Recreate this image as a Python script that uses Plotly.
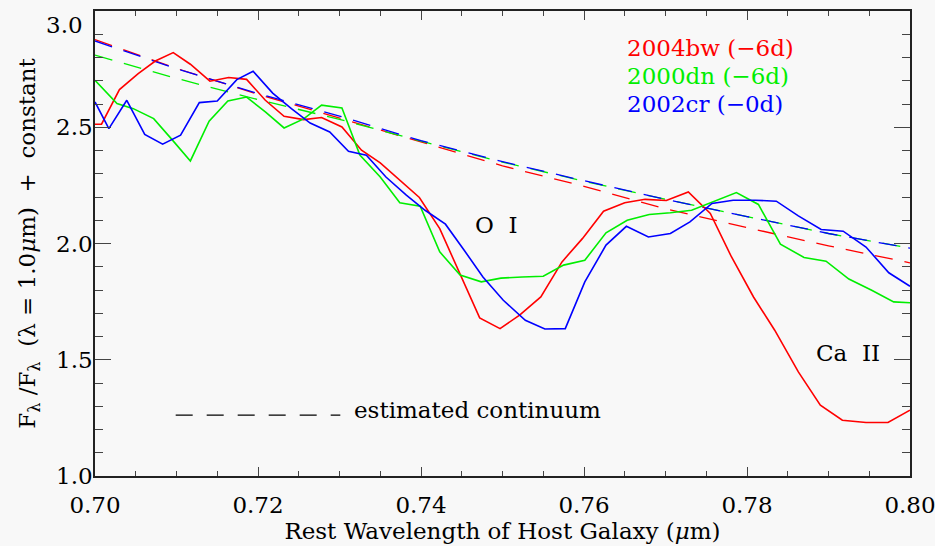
import plotly.graph_objects as go

# Rest wavelength (micron) and normalised flux for each supernova
wave_04bw = [0.7000, 0.7008, 0.7030, 0.7053, 0.7074, 0.7096, 0.7117, 0.7141, 0.7164, 0.7186,
             0.7209, 0.7232, 0.7256, 0.7278, 0.7303, 0.7327, 0.7350, 0.7374, 0.7398, 0.7423,
             0.7448, 0.7472, 0.7497, 0.7521, 0.7547, 0.7573, 0.7598, 0.7624, 0.7650, 0.7675,
             0.7701, 0.7728, 0.7755, 0.7781, 0.7808, 0.7834, 0.7863, 0.7890, 0.7917, 0.7946,
             0.7973, 0.8000]
flux_04bw = [2.513, 2.513, 2.662, 2.731, 2.785, 2.821, 2.771, 2.698, 2.714, 2.706,
             2.616, 2.547, 2.533, 2.542, 2.501, 2.401, 2.347, 2.272, 2.198, 2.064,
             1.864, 1.680, 1.634, 1.692, 1.770, 1.921, 2.021, 2.139, 2.175, 2.190,
             2.185, 2.222, 2.129, 1.942, 1.770, 1.627, 1.448, 1.305, 1.240, 1.230,
             1.230, 1.283]

wave_00dn = [0.7000, 0.7027, 0.7047, 0.7072, 0.7094, 0.7117, 0.7140, 0.7163, 0.7186, 0.7209,
             0.7232, 0.7256, 0.7278, 0.7303, 0.7325, 0.7350, 0.7374, 0.7399, 0.7423, 0.7448,
             0.7474, 0.7498, 0.7524, 0.7550, 0.7575, 0.7601, 0.7627, 0.7653, 0.7680, 0.7706,
             0.7732, 0.7759, 0.7787, 0.7814, 0.7841, 0.7870, 0.7897, 0.7925, 0.7953, 0.7980,
             0.8000]
flux_00dn = [2.702, 2.602, 2.580, 2.537, 2.449, 2.355, 2.526, 2.613, 2.630, 2.566,
             2.497, 2.536, 2.595, 2.583, 2.380, 2.286, 2.175, 2.160, 1.964, 1.864,
             1.835, 1.851, 1.856, 1.859, 1.907, 1.928, 2.046, 2.100, 2.125, 2.132,
             2.143, 2.179, 2.219, 2.168, 1.997, 1.940, 1.924, 1.847, 1.799, 1.749,
             1.745]

wave_02cr = [0.7000, 0.7017, 0.7039, 0.7061, 0.7083, 0.7105, 0.7128, 0.7150, 0.7174, 0.7194,
             0.7218, 0.7241, 0.7264, 0.7288, 0.7311, 0.7333, 0.7357, 0.7382, 0.7405, 0.7430,
             0.7453, 0.7476, 0.7501, 0.7528, 0.7552, 0.7577, 0.7601, 0.7627, 0.7652, 0.7679,
             0.7706, 0.7730, 0.7757, 0.7783, 0.7810, 0.7836, 0.7863, 0.7891, 0.7918, 0.7946,
             0.7974, 0.8000]
flux_02cr = [2.609, 2.494, 2.616, 2.469, 2.427, 2.466, 2.606, 2.613, 2.705, 2.741,
             2.647, 2.580, 2.518, 2.480, 2.397, 2.380, 2.286, 2.208, 2.143, 2.083,
             1.971, 1.856, 1.756, 1.670, 1.632, 1.634, 1.835, 1.993, 2.074, 2.028,
             2.043, 2.093, 2.172, 2.186, 2.186, 2.182, 2.119, 2.060, 2.053, 1.985,
             1.874, 1.816]

# Estimated continuum for each spectrum
cont_wave = [0.700, 0.710, 0.720, 0.730, 0.740, 0.750, 0.760, 0.770, 0.780, 0.790, 0.800]
cont_04bw = [2.877, 2.753, 2.642, 2.540, 2.438, 2.334, 2.246, 2.149, 2.068, 1.990, 1.917]
cont_00dn = [2.810, 2.710, 2.619, 2.534, 2.440, 2.350, 2.268, 2.190, 2.116, 2.043, 1.980]
cont_02cr = [2.871, 2.752, 2.645, 2.548, 2.442, 2.352, 2.270, 2.190, 2.116, 2.043, 1.980]

# y tick labels; the topmost one is set just inside the frame
ytick_vals = [1.0, 1.5, 2.0, 2.5, 3.0]
ytick_text = ["1.0", "1.5", "2.0", "2.5", ""]
ytop_label = "3.0"

labels = ["2004bw (\u22126d)", "2000dn (\u22126d)", "2002cr (\u22120d)"]
colors = ["#ff0000", "#00ee00", "#0000ff"]

FONT = "DejaVu Serif"
BG = "#f8f8f8"
SP = "\u00a0"

fig = go.Figure()

spectra = [(wave_04bw, flux_04bw, cont_04bw), (wave_00dn, flux_00dn, cont_00dn),
           (wave_02cr, flux_02cr, cont_02cr)]

for (w, f, c), col in zip(spectra, colors):
    fig.add_trace(go.Scatter(x=cont_wave, y=c, mode="lines",
                             line=dict(color=col, width=1.3, dash="18px,12px"),
                             showlegend=False, hoverinfo="skip"))
for (w, f, c), col, lab in zip(spectra, colors, labels):
    fig.add_trace(go.Scatter(x=w, y=f, mode="lines", name=lab,
                             line=dict(color=col, width=1.6), showlegend=False))

# key for the dashed continuum lines
key_x = [0.7099, 0.7301]
key_y = [1.262, 1.262]
fig.add_trace(go.Scatter(x=key_x, y=key_y, mode="lines",
                         line=dict(color="#000000", width=1.3, dash="17px,14px"),
                         showlegend=False, hoverinfo="skip"))

annotations = []
legend_y = [2.840, 2.719, 2.599]
for lab, col, yy in zip(labels, colors, legend_y):
    annotations.append(dict(x=0.765, y=yy, text=lab, showarrow=False, xanchor="left",
                            yanchor="middle", font=dict(family=FONT, size=23, color=col)))
annotations.append(dict(x=0.7315, y=1.283, text="estimated continuum", showarrow=False,
                        xanchor="left", yanchor="middle",
                        font=dict(family=FONT, size=23, color="#000000")))
annotations.append(dict(x=0.7493, y=2.08, text="O" + SP * 2 + "I", showarrow=False,
                        font=dict(family=FONT, size=23, color="#000000")))
annotations.append(dict(x=0.7924, y=1.53, text="Ca" + SP * 2 + "II", showarrow=False,
                        font=dict(family=FONT, size=23, color="#000000")))
annotations.append(dict(x=0, xref="paper", y=3.0, yref="y", text=ytop_label,
                        showarrow=False, xanchor="right", yanchor="top", xshift=-10,
                        yshift=1, font=dict(family=FONT, size=23, color="#000000")))

axis_common = dict(showgrid=False, zeroline=False, showline=True, linecolor="#222222",
                   linewidth=1.5, mirror="allticks", ticks="inside", tickcolor="#444444",
                   tickwidth=1.2, automargin=False, ticklabeloverflow="allow",
                   tickfont=dict(family=FONT, size=23, color="#000000"))

ytitle = ("F<sub>\u03bb</sub>" + SP + "/F<sub>\u03bb</sub>" + SP * 2 +
          "(\u03bb" + SP + "=" + SP + "1.0<i>\u03bc</i>m)" + SP * 2 + "+" + SP * 2 + "constant")

fig.update_layout(
    width=935, height=546,
    margin=dict(l=95, r=25, t=11, b=70),
    paper_bgcolor=BG, plot_bgcolor=BG,
    annotations=annotations,
    xaxis=dict(range=[0.70, 0.80], dtick=0.02, tickformat=".2f", ticklen=9,
               minor=dict(dtick=0.005, ticklen=5, ticks="inside", tickcolor="#444444"),
               title=dict(text="Rest Wavelength of Host Galaxy (<i>\u03bc</i>m)",
                          font=dict(family=FONT, size=23, color="#000000"), standoff=6),
               ticklabelstandoff=8, **axis_common),
    yaxis=dict(range=[1.0, 3.0], tickmode="array", tickvals=ytick_vals, ticktext=ytick_text,
               ticklen=16,
               minor=dict(dtick=0.1, ticklen=8, ticks="inside", tickcolor="#444444"),
               title=dict(text=ytitle,
                          font=dict(family=FONT, size=23, color="#000000"), standoff=14),
               ticklabelstandoff=-4, **axis_common),
)

fig.write_html("out.html")
